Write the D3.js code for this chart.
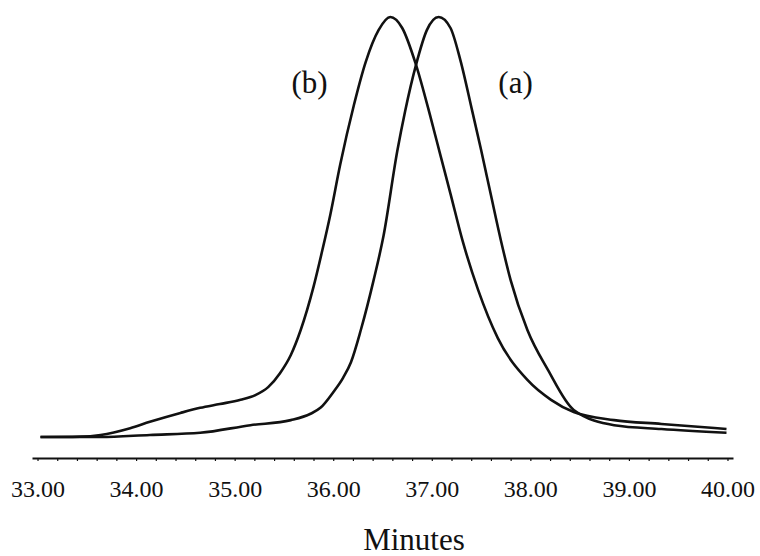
<!DOCTYPE html>
<html>
<head>
<meta charset="utf-8">
<script src="https://cdn.jsdelivr.net/npm/d3@7"></script>
<style>
  body { margin: 0; background: #fff; }
  svg { display: block; }
</style>
</head>
<body>
<div id="chart"></div>
<script>
// minutes (x) and relative detector signal (y, % of peak)
const seriesB = [
  [33.03, 0.7], [33.43, 0.8], [33.64, 1.2], [33.94, 2.8], [34.14, 4.3],
  [34.45, 6.4], [34.65, 7.6], [34.85, 8.5], [35.06, 9.5], [35.21, 10.6],
  [35.34, 12.5], [35.46, 15.8], [35.57, 20.1], [35.67, 26.0], [35.80, 36.2],
  [35.89, 44.9], [35.97, 53.2], [36.07, 65.0], [36.21, 79.2], [36.33, 89.4],
  [36.46, 96.9], [36.58, 100], [36.70, 97.4], [36.84, 88.7], [36.99, 76.1],
  [37.09, 67.1], [37.19, 58.2], [37.31, 47.3], [37.47, 35.5], [37.67, 24.1],
  [37.97, 14.2], [38.21, 9.5], [38.44, 6.6], [38.85, 4.7], [39.33, 3.8],
  [39.99, 2.6]
];
const seriesA = [
  [33.03, 0.7], [33.64, 0.7], [34.14, 1.2], [34.65, 1.7], [35.16, 3.5],
  [35.57, 4.7], [35.77, 6.2], [35.87, 7.6], [36.00, 11.3], [36.10, 14.7],
  [36.18, 18.4], [36.28, 26.0], [36.41, 37.8], [36.51, 48.2], [36.65, 68.3],
  [36.73, 77.8], [36.84, 88.7], [36.95, 96.9], [37.07, 100], [37.19, 97.4],
  [37.29, 89.8], [37.41, 77.8], [37.50, 68.6], [37.60, 57.9], [37.70, 47.3],
  [37.80, 37.8], [37.97, 26.0], [38.18, 16.5], [38.44, 7.1], [38.85, 3.5],
  [39.33, 2.6], [39.99, 1.7]
];
const majorTicks = [33, 34, 35, 36, 37, 38, 39, 40];
const minorTicks = d3.range(33, 40.001, 0.2).map(d => +d.toFixed(1));
const seriesLabels = [
  { text: "(b)", x: 35.76, y: 82 },
  { text: "(a)", x: 37.85, y: 82 }
];
const xTitle = "Minutes";

const width = 760, height = 556;
const font = "'Liberation Serif', 'Times New Roman', serif";

const svg = d3.select("#chart")
  .append("svg")
  .attr("width", width)
  .attr("height", height);

const x = d3.scaleLinear()
  .domain([32.944, 40.056])
  .range([32, 733]);

const y = d3.scaleLinear()
  .domain([0, 100])
  .range([440, 17]);

// axis: small ticks every 0.2 min, labels on whole minutes
const axis = svg.append("g")
  .attr("transform", "translate(0,458)")
  .attr("font-family", null)
  .call(d3.axisBottom(x)
    .tickValues(minorTicks)
    .tickSize(3)
    .tickSizeOuter(0)
    .tickFormat(d => majorTicks.includes(d) ? d.toFixed(2) : ""));

axis.attr("font-family", font);
axis.select(".domain").attr("stroke", "#111").attr("stroke-width", 2);
axis.selectAll(".tick line").attr("stroke", "#111").attr("stroke-width", 1.2);
axis.selectAll(".tick text")
  .attr("dy", null)
  .attr("y", 39)
  .attr("fill", "#111")
  .style("font-family", font)
  .style("font-size", "24px");

svg.append("text")
  .attr("x", 414)
  .attr("y", 550)
  .attr("text-anchor", "middle")
  .attr("fill", "#111")
  .style("font-family", font)
  .style("font-size", "31px")
  .text(xTitle);

const line = d3.line()
  .x(d => x(d[0]))
  .y(d => y(d[1]))
  .curve(d3.curveMonotoneX);

[seriesB, seriesA].forEach(s => {
  svg.append("path")
    .datum(s)
    .attr("fill", "none")
    .attr("stroke", "#111")
    .attr("stroke-width", 2.6)
    .attr("stroke-linejoin", "round")
    .attr("d", line);
});

svg.selectAll(".lbl")
  .data(seriesLabels)
  .enter()
  .append("text")
  .attr("class", "lbl")
  .attr("x", d => x(d.x))
  .attr("y", d => y(d.y))
  .attr("text-anchor", "middle")
  .attr("fill", "#111")
  .style("font-family", font)
  .style("font-size", "31px")
  .text(d => d.text);
</script>
</body>
</html>
